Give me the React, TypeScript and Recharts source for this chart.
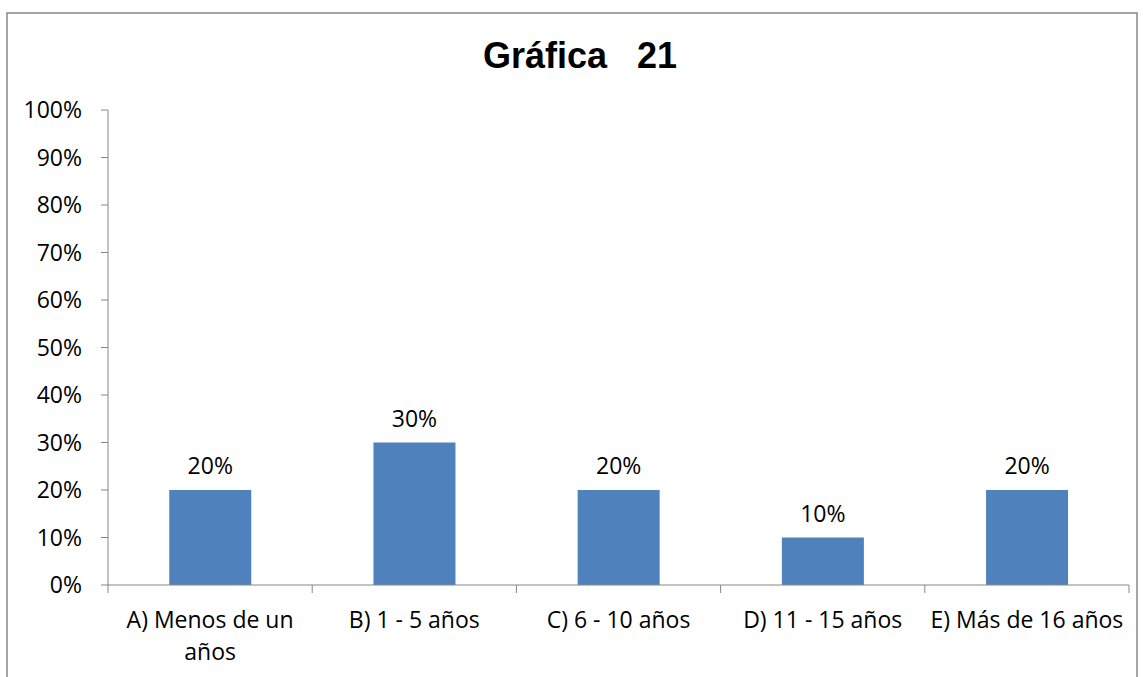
import { BarChart, Bar, XAxis, YAxis, LabelList } from 'recharts'

const categories = ['A) Menos de un\naños', 'B) 1 - 5 años', 'C) 6 - 10 años', 'D) 11 - 15 años', 'E) Más de 16 años']
const values = [0.2, 0.3, 0.2, 0.1, 0.2]
const yTicks = [0, 0.1, 0.2, 0.3, 0.4, 0.5, 0.6, 0.7, 0.8, 0.9, 1]

const data = categories.map((name, i) => ({ name, value: values[i] }))

const W = 1143
const H = 677
const LEFT = 108
const RIGHT = 14
const FONT = '"Open Sans", sans-serif'
const FS = 23
const AXIS = '#868686'
const band = (W - LEFT - RIGHT) / categories.length
const pct = (v: number) => `${Math.round(v * 100)}%`

const CatTick = (props: any) => {
  const { x, y, payload, index } = props
  const lines = String(payload.value).split('\n')
  return (
    <g>
      <line x1={x - band / 2} x2={x - band / 2} y1={y} y2={y + 8} stroke={AXIS} />
      {index === categories.length - 1 && (
        <line x1={x + band / 2} x2={x + band / 2} y1={y} y2={y + 8} stroke={AXIS} />
      )}
      <text x={x} y={y + 43} textAnchor="middle" fontFamily={FONT} fontSize={FS} fill="#000">
        {lines.map((l, i) => (
          <tspan key={i} x={x} dy={i === 0 ? 0 : 32}>{l}</tspan>
        ))}
      </text>
    </g>
  )
}

export default function App() {
  return (
    <div style={{ position: 'absolute', left: 0, top: 0, width: W, height: H, background: '#fff', overflow: 'hidden' }}>
      <svg width={W} height={H} style={{ position: 'absolute', left: 0, top: 0 }}>
        <rect x={7} y={13} width={1130} height={720} fill="none" stroke="#888" strokeWidth={1.5} />
        <text x={580} y={68} textAnchor="middle" fontFamily='"Liberation Sans", Arial, sans-serif' fontWeight="bold" fontSize={36} fill="#000">
          Gráfica{'\u00a0\u00a0\u00a0'}21
        </text>
      </svg>
      <div style={{ position: 'absolute', left: 0, top: 0 }}>
        <BarChart width={W} height={H} data={data} margin={{ top: 110, right: RIGHT, bottom: 0, left: 0 }} barCategoryGap="30%">
          <XAxis dataKey="name" height={92} tickLine={false} tickSize={0} tickMargin={0} interval={0}
            axisLine={{ stroke: AXIS }} tick={<CatTick />} />
          <YAxis domain={[0, 1]} ticks={yTicks} tickFormatter={pct} width={LEFT} tickSize={7} tickMargin={19}
            axisLine={{ stroke: AXIS }} tickLine={{ stroke: AXIS }}
            tick={{ fontFamily: FONT, fontSize: FS, fill: '#000' }} />
          <Bar dataKey="value" fill="#4F81BD" isAnimationActive={false}>
            <LabelList dataKey="value" position="top" offset={16} formatter={(v: any) => pct(Number(v))}
              style={{ fontFamily: FONT, fontSize: FS, fill: '#000' }} />
          </Bar>
        </BarChart>
      </div>
    </div>
  )
}
